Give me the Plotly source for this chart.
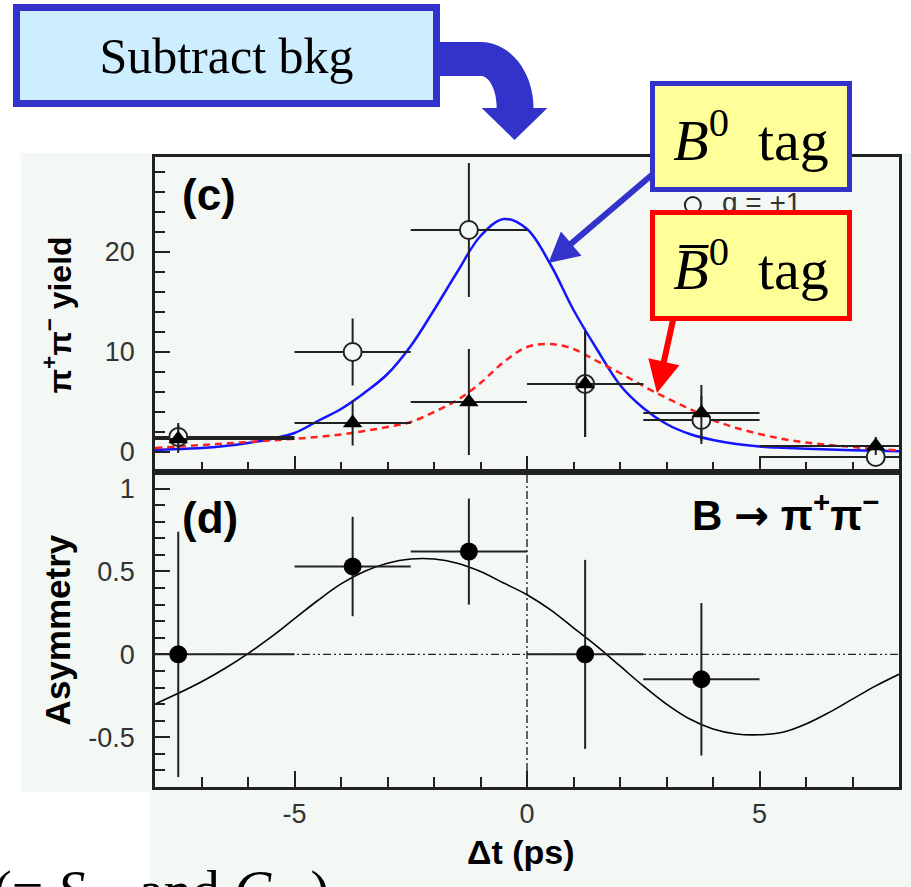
import math
import plotly.graph_objects as go

# ---------------- data ----------------
# panel (c): pi+pi- yield per dt bin
bin_centers = [-7.5, -3.75, -1.25, 1.25, 3.75, 7.5]
bin_low = [-8, -5, -2.5, 0, 2.5, 5]
bin_high = [-5, -2.5, 0, 2.5, 5, 8]
yield_b0 = [1.5, 10.0, 22.2, 6.8, 3.2, -0.5]          # open circles (q = +1)
yield_b0_err = [1.4, 3.35, 6.7, 5.3, 2.4, 0.8]
yield_b0bar = [1.3, 2.9, 5.0, 6.8, 3.9, 0.6]          # filled triangles (q = -1)
yield_b0bar_err = [1.4, 2.25, 5.3, 5.3, 2.8, 0.9]

# fit curves, panel (c)
fit_dt = [-8, -7.5, -7, -6.5, -6, -5.5, -5, -4.5, -4, -3.5, -3, -2.5, -2, -1.5, -1, -0.5,
          0, 0.5, 1, 1.5, 2, 2.5, 3, 3.5, 4, 4.5, 5, 5.5, 6, 6.5, 7, 7.5, 8]
fit_b0 = [0.2, 0.3, 0.4, 0.6, 0.9, 1.3, 1.9, 3.1, 4.3, 5.9, 7.8, 10.6, 14.2, 18.0, 21.6, 23.3,
          22.3, 18.8, 14.2, 10.3, 6.7, 4.4, 2.8, 1.8, 1.2, 0.8, 0.55, 0.42, 0.32, 0.24, 0.17, 0.12, 0.08]
fit_b0bar = [0.4, 0.55, 0.7, 0.85, 1.0, 1.15, 1.33, 1.5, 1.75, 2.1, 2.5, 3.0, 4.0, 5.2, 6.9, 9.0,
             10.5, 10.8, 10.3, 9.1, 7.9, 6.6, 5.4, 4.3, 3.2, 2.4, 1.8, 1.3, 0.95, 0.7, 0.5, 0.3, 0.17]

# panel (d): asymmetry
asym_centers = [-7.5, -3.75, -1.25, 1.25, 3.75]
asym_low = [-8, -5, -2.5, 0, 2.5]
asym_high = [-5, -2.5, 0, 2.5, 5]
asym = [0.0, 0.53, 0.62, 0.0, -0.15]
asym_err = [0.74, 0.30, 0.32, 0.57, 0.46]
asym_fit_dt = fit_dt
asym_fit = [-0.30, -0.235, -0.165, -0.085, 0.005, 0.105, 0.215, 0.325, 0.425, 0.50, 0.55, 0.575, 0.575,
            0.55, 0.50, 0.43, 0.36, 0.27, 0.16, 0.05, -0.07, -0.19, -0.30, -0.39, -0.45, -0.48,
            -0.485, -0.47, -0.42, -0.35, -0.27, -0.19, -0.12]

x_tick_vals = [-5, 0, 5]
x_tick_text = ["-5", "0", "5"]
yield_tick_vals = [0, 10, 20]
yield_tick_text = ["0", "10", "20"]
asym_tick_vals = [-0.5, 0, 0.5, 1]
asym_tick_text = ["-0.5", "0", "0.5", "1"]

# ---------------- styling / geometry ----------------
FIG_W, FIG_H = 911, 887
PL, PR, PT, PB = 155, 902, 157, 787      # plot-area pixel bounds


def fx(xp):
    return (xp - PL) / (PR - PL)


def fy(yp):
    return (PB - yp) / (PB - PT)


BG = "#F4F8F5"
INK = "#222222"
SLIDE_BLUE = "#3333CC"
SANS = "Liberation Sans, Arial, sans-serif"
SERIF = "Liberation Serif, Times New Roman, serif"

fig = go.Figure()

# fits, panel (c)
fig.add_trace(go.Scatter(x=fit_dt, y=fit_b0, mode="lines", line=dict(color="#1414FF", width=2.5, shape="spline"),
                         xaxis="x", yaxis="y", showlegend=False, hoverinfo="skip"))
fig.add_trace(go.Scatter(x=fit_dt, y=fit_b0bar, mode="lines",
                         line=dict(color="#FF2020", width=2.5, dash="7px,5px", shape="spline"),
                         xaxis="x", yaxis="y", showlegend=False, hoverinfo="skip"))

ex_plus = [h - c for h, c in zip(bin_high, bin_centers)]
ex_minus = [c - l for l, c in zip(bin_low, bin_centers)]
ebar = dict(color=INK, thickness=2, width=0)

fig.add_trace(go.Scatter(x=bin_centers, y=yield_b0, mode="markers",
                         marker=dict(symbol="circle", size=18, color=BG, line=dict(color=INK, width=2)),
                         error_x=dict(type="data", array=ex_plus, arrayminus=ex_minus, symmetric=False, **ebar),
                         error_y=dict(type="data", array=yield_b0_err, **ebar),
                         xaxis="x", yaxis="y", showlegend=False))
fig.add_trace(go.Scatter(x=bin_centers, y=yield_b0bar, mode="markers",
                         marker=dict(symbol="triangle-up", size=17, color="black"),
                         error_x=dict(type="data", array=ex_plus, arrayminus=ex_minus, symmetric=False, **ebar),
                         error_y=dict(type="data", array=yield_b0bar_err, **ebar),
                         xaxis="x", yaxis="y", showlegend=False))

# panel (d)
fig.add_trace(go.Scatter(x=asym_fit_dt, y=asym_fit, mode="lines", line=dict(color="black", width=1.6, shape="spline"),
                         xaxis="x2", yaxis="y2", showlegend=False, hoverinfo="skip"))
ax_plus = [h - c for h, c in zip(asym_high, asym_centers)]
ax_minus = [c - l for l, c in zip(asym_low, asym_centers)]
fig.add_trace(go.Scatter(x=asym_centers, y=asym, mode="markers",
                         marker=dict(symbol="circle", size=18, color="black"),
                         error_x=dict(type="data", array=ax_plus, arrayminus=ax_minus, symmetric=False, **ebar),
                         error_y=dict(type="data", array=asym_err, **ebar),
                         xaxis="x2", yaxis="y2", showlegend=False))

axis_common = dict(showline=True, linewidth=2.5, linecolor=INK, mirror=True, showgrid=False,
                   zeroline=False, ticks="inside", tickcolor=INK, tickwidth=2,
                   tickfont=dict(family=SANS, size=27, color="#333333"))
minor_x = dict(dtick=1, tick0=0, ticklen=10, ticks="inside", tickcolor=INK, tickwidth=2)

fig.update_layout(
    width=FIG_W, height=FIG_H, autosize=False,
    margin=dict(l=PL, r=FIG_W - PR, t=PT, b=FIG_H - PB, pad=0),
    paper_bgcolor="white", plot_bgcolor=BG,
    xaxis=dict(domain=[0, 1], anchor="y", range=[-8, 8], tickmode="array", tickvals=x_tick_vals,
               ticklen=16, showticklabels=False, minor=minor_x, **axis_common),
    yaxis=dict(domain=[0.5, 1], anchor="x", range=[-2, 29.5], tickmode="array", tickvals=yield_tick_vals,
               ticktext=yield_tick_text, ticklen=15, ticklabelstandoff=12,
               minor=dict(dtick=2, tick0=0, ticklen=10, ticks="inside", tickcolor=INK, tickwidth=2),
               **axis_common),
    xaxis2=dict(domain=[0, 1], anchor="y2", range=[-8, 8], tickmode="array", tickvals=x_tick_vals,
                ticktext=x_tick_text, ticklen=16, ticklabelstandoff=1, minor=minor_x, **axis_common),
    yaxis2=dict(domain=[0, 0.5], anchor="x2", range=[-0.8, 1.1], tickmode="array", tickvals=asym_tick_vals,
                ticktext=asym_tick_text, ticklen=15, ticklabelstandoff=12,
                minor=dict(dtick=0.1, tick0=0, ticklen=10, ticks="inside", tickcolor=INK, tickwidth=2),
                **axis_common),
)

shapes = []
# scanned-figure background regions
shapes.append(dict(type="rect", xref="paper", yref="paper", x0=fx(20), x1=fx(FIG_W + 5), y0=fy(153), y1=fy(792),
                   fillcolor=BG, line=dict(width=0), layer="below"))
shapes.append(dict(type="rect", xref="paper", yref="paper", x0=fx(150), x1=fx(FIG_W + 5), y0=fy(792), y1=fy(FIG_H + 5),
                   fillcolor=BG, line=dict(width=0), layer="below"))
# reference lines in panel (d)
shapes.append(dict(type="line", xref="x2 domain", yref="y2", x0=0, x1=1, y0=0, y1=0,
                   line=dict(color=INK, width=1.4, dash="8px,3px,2px,3px,2px,3px"), layer="below"))
shapes.append(dict(type="line", xref="x2", yref="y2 domain", x0=0, x1=0, y0=0, y1=1,
                   line=dict(color=INK, width=1.4, dash="8px,3px,2px,3px"), layer="below"))


def poly_path(pts):
    return "M " + " L ".join(f"{fx(a):.5f},{fy(b):.5f}" for a, b in pts) + " Z"


def straight_arrow(tail, tip, shaft_w, head_len, head_hw):
    dx, dy = tip[0] - tail[0], tip[1] - tail[1]
    ln = math.hypot(dx, dy)
    ux, uy = dx / ln, dy / ln
    nx, ny = -uy, ux
    bx, by = tip[0] - ux * head_len, tip[1] - uy * head_len
    s = shaft_w / 2
    return [(tail[0] + nx * s, tail[1] + ny * s), (bx + nx * s, by + ny * s), (bx + nx * head_hw, by + ny * head_hw),
            tip, (bx - nx * head_hw, by - ny * head_hw), (bx - nx * s, by - ny * s), (tail[0] - nx * s, tail[1] - ny * s)]


# curved "Subtract bkg" arrow
cx, cy = 482, 108
pts = [(437, 42)]
for i in range(0, 19):
    a = math.radians(90 - 5 * i)
    pts.append((cx + 53 * math.cos(a), cy - 66 * math.sin(a)))
pts += [(549, 108), (516, 140), (483, 108), (498, 108)]
for i in range(0, 19):
    a = math.radians(5 * i)
    pts.append((cx + 16 * math.cos(a), cy - 32 * math.sin(a)))
pts.append((437, 76))
shapes.append(dict(type="path", xref="paper", yref="paper", path=poly_path(pts), fillcolor=SLIDE_BLUE,
                   line=dict(width=0), layer="above"))
# blue and red pointer arrows
shapes.append(dict(type="path", xref="paper", yref="paper",
                   path=poly_path(straight_arrow((662, 168), (550, 263), 6, 30, 16)),
                   fillcolor=SLIDE_BLUE, line=dict(width=0), layer="above"))
shapes.append(dict(type="path", xref="paper", yref="paper",
                   path=poly_path(straight_arrow((676, 316), (659, 393), 6, 32, 16)),
                   fillcolor="#FF0000", line=dict(width=0), layer="above"))
# legend marker "o q = +1"
shapes.append(dict(type="circle", xref="paper", yref="paper", x0=fx(687), x1=fx(703), y0=fy(213), y1=fy(197),
                   fillcolor=BG, line=dict(color=INK, width=2), layer="above"))

fig.update_layout(shapes=shapes)

ann = []


def text_at(xp, yp, text, size, family=SANS, xanchor="center", yanchor="middle", angle=0, color="black", **kw):
    ann.append(dict(xref="paper", yref="paper", x=fx(xp), y=fy(yp), text=text, showarrow=False,
                    xanchor=xanchor, yanchor=yanchor, textangle=angle,
                    font=dict(family=family, size=size, color=color), **kw))


text_at(209, 194, "<b>(c)</b>", 44)
text_at(210, 517, "<b>(d)</b>", 44)
text_at(885, 512, "<b>B <span style='font-family:DejaVu Sans'>\u2192</span> "
                  "\u03c0<sup>+</sup>\u03c0<sup>\u2212</sup></b>", 42, xanchor="right")
text_at(57, 315, "<b>\u03c0<sup>+</sup>\u03c0<sup>\u2212</sup> yield</b>", 32, angle=-90)
text_at(57, 630, "<b>Asymmetry</b>", 35, angle=-90)
text_at(522, 852, "<b>\u0394t (ps)</b>", 34)
text_at(722, 203, "q = +1", 28, xanchor="left", color="#333333")


def box_at(xc, yc, w, h, text, size, border, bw, fill):
    ann.append(dict(xref="paper", yref="paper", x=fx(xc), y=fy(yc), text=text, showarrow=False,
                    xanchor="center", yanchor="middle", width=w - bw, height=h - bw,
                    bgcolor=fill, bordercolor=border, borderwidth=bw, borderpad=0,
                    font=dict(family=SERIF, size=size, color="black")))


box_at(227, 56, 420, 96, "Subtract bkg", 50, SLIDE_BLUE, 7, "#CCEEFF")
box_at(753.5, 137, 197, 106, "<i>B</i><sup>0</sup>\u00a0 tag", 58, SLIDE_BLUE, 5, "#FFFF99")
box_at(753.5, 265, 197, 106, "<i>B\u0305</i><sup>0</sup>\u00a0 tag", 58, "#FF0000", 5, "#FFFF99")

text_at(-10, 858, "(= <i>S</i><sub>\u03c0\u03c0</sub> and <i>C</i><sub>\u03c0\u03c0</sub>)", 56, family=SERIF,
        xanchor="left", yanchor="top")

fig.update_layout(annotations=ann)

fig.write_html("out.html", config={"displayModeBar": False},
               post_script="document.body.style.margin='0';document.body.style.overflow='hidden';")
